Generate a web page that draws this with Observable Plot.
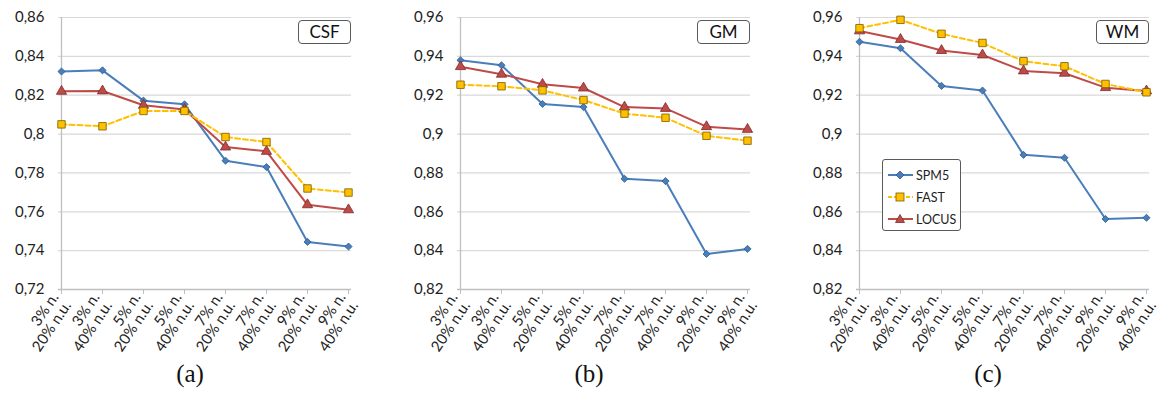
<!DOCTYPE html>
<html>
<head>
<meta charset="utf-8">
<script src="https://cdn.jsdelivr.net/npm/d3@7"></script>
<script src="https://cdn.jsdelivr.net/npm/@observablehq/plot@0.6"></script>
<style>
  html, body { margin: 0; padding: 0; background: #fff; }
  #root { position: relative; width: 1173px; height: 396px; overflow: hidden; font-family: Lato, "Open Sans", sans-serif; }
  .panel { position: absolute; top: 0; width: 390px; height: 370px; }
  .panel svg { max-width: none !important; }
  .tag { position: absolute; border: 1.3px solid #595959; border-radius: 4px; background: #fff;
         font-family: Lato, sans-serif; font-size: 17px; color: #111; text-align: center; line-height: 21px; box-sizing: border-box; }
  .caption { position: absolute; top: 360px; font-family: "Liberation Serif", "DejaVu Serif", serif; font-size: 25px; color: #111; width: 60px; text-align: center; }
  .legend { position: absolute; border: 1.3px solid #595959; border-radius: 3px; background: #fff; box-sizing: border-box; padding: 4px 0 0 4px; }
  .legend .row { display: flex; align-items: center; height: 22px; font-family: Lato, sans-serif; font-size: 12.5px; color: #222; }
  .legend svg { margin-right: 2px; }
</style>
</head>
<body>
<div id="root"></div>
<script>
// ---- data ----
const noiseLabels = ["3% n.", "3% n.", "5% n.", "5% n.", "7% n.", "7% n.", "9% n.", "9% n."];
const nonuniformLabels = ["20% n.u.", "40% n.u.", "20% n.u.", "40% n.u.", "20% n.u.", "40% n.u.", "20% n.u.", "40% n.u."];
const methods = ["SPM5", "FAST", "LOCUS"];

const csfSPM5  = [0.8322, 0.8328, 0.8172, 0.8153, 0.7863, 0.7830, 0.7445, 0.7421];
const csfFAST  = [0.8050, 0.8040, 0.8119, 0.8119, 0.7985, 0.7959, 0.7720, 0.7699];
const csfLOCUS = [0.8220, 0.8222, 0.8148, 0.8127, 0.7933, 0.7911, 0.7636, 0.7610];

const gmSPM5  = [0.9380, 0.9354, 0.9155, 0.9139, 0.8770, 0.8758, 0.8383, 0.8409];
const gmFAST  = [0.9254, 0.9246, 0.9225, 0.9175, 0.9105, 0.9084, 0.8991, 0.8966];
const gmLOCUS = [0.9347, 0.9308, 0.9256, 0.9237, 0.9139, 0.9132, 0.9038, 0.9024];

const wmSPM5  = [0.9475, 0.9442, 0.9248, 0.9224, 0.8893, 0.8878, 0.8563, 0.8569];
const wmFAST  = [0.9545, 0.9588, 0.9516, 0.9469, 0.9375, 0.9349, 0.9258, 0.9215];
const wmLOCUS = [0.9531, 0.9487, 0.9430, 0.9407, 0.9325, 0.9313, 0.9239, 0.9222];

const csfTicks = [0.72, 0.74, 0.76, 0.78, 0.80, 0.82, 0.84, 0.86];
const gmTicks  = [0.82, 0.84, 0.86, 0.88, 0.90, 0.92, 0.94, 0.96];
const wmTicks  = [0.82, 0.84, 0.86, 0.88, 0.90, 0.92, 0.94, 0.96];

const panelNames = ["CSF", "GM", "WM"];
const captions = ["(a)", "(b)", "(c)"];

// ---- styles ----
const style = {
  SPM5:  {stroke: "#4A7EBB", fill: "#4A7EBB", mstroke: "#2C5A8F", symbol: "diamond2", r: 3.2, dash: null},
  FAST:  {stroke: "#FFC000", fill: "#FFC000", mstroke: "#7A5C00", symbol: "square", r: 4.2, dash: "5,3"},
  LOCUS: {stroke: "#BE4B48", fill: "#BE4B48", mstroke: "#7E2A28", symbol: "triangle", r: 3.8, dash: null}
};

const categories = noiseLabels.map((n, i) => n + "\n" + nonuniformLabels[i]);
const fmt = v => String(+v.toFixed(2)).replace(".", ",");

function makeRows(series) {
  const rows = [];
  for (const m of methods) series[m].forEach((v, i) => rows.push({method: m, cat: categories[i], value: v}));
  return rows;
}

const panels = [
  {series: {SPM5: csfSPM5, FAST: csfFAST, LOCUS: csfLOCUS}, ticks: csfTicks},
  {series: {SPM5: gmSPM5, FAST: gmFAST, LOCUS: gmLOCUS}, ticks: gmTicks},
  {series: {SPM5: wmSPM5, FAST: wmFAST, LOCUS: wmLOCUS}, ticks: wmTicks}
];

const root = document.getElementById("root");
const panelLeft = [0, 399, 798];
const W = 390, ML = 58, MR = 39, MT = 17, H = 370, MB = 81;

panels.forEach((p, k) => {
  const rows = makeRows(p.series);
  const drawOrder = ["SPM5", "LOCUS", "FAST"];
  const marks = [
    Plot.gridY(p.ticks.slice(1), {stroke: "#d9d9d9", strokeOpacity: 1, strokeWidth: 1.2}),
    Plot.ruleY([p.ticks[0]], {stroke: "#bfbfbf", strokeWidth: 1.3}),
    Plot.ruleX([categories[0]], {stroke: "#bfbfbf", strokeWidth: 1.3}),
    Plot.axisY({ticks: p.ticks, tickSize: 0, tickPadding: 14, tickFormat: fmt, fontSize: 15, fill: "#222"}),
    Plot.axisX({tickSize: 5, tickPadding: 4, tickRotate: -56, fontSize: 15, fill: "#222", stroke: "#bfbfbf", lineHeight: 1.0})
  ];
  for (const m of drawOrder) {
    const s = style[m];
    const d = rows.filter(r => r.method === m);
    marks.push(Plot.line(d, {x: "cat", y: "value", stroke: s.stroke, strokeWidth: 2, strokeDasharray: s.dash}));
  }
  for (const m of drawOrder) {
    const s = style[m];
    const d = rows.filter(r => r.method === m);
    marks.push(Plot.dot(d, {x: "cat", y: "value", symbol: () => s.symbol, fill: s.fill, stroke: s.mstroke, strokeWidth: 0.8, r: s.r}));
  }
  const chart = Plot.plot({
    width: W, height: H,
    marginLeft: ML, marginRight: MR, marginTop: MT, marginBottom: MB,
    style: {fontFamily: "Lato, 'Open Sans', sans-serif", background: "transparent", overflow: "visible"},
    x: {type: "point", domain: categories, padding: 0, label: null},
    y: {domain: [p.ticks[0], p.ticks[p.ticks.length - 1]], label: null},
    symbol: {type: "identity"},
    marks
  });
  const wrap = document.createElement("div");
  wrap.className = "panel";
  wrap.style.left = panelLeft[k] + "px";
  wrap.appendChild(chart);
  root.appendChild(wrap);

  const tag = document.createElement("div");
  tag.className = "tag";
  tag.textContent = panelNames[k];
  tag.style.left = (panelLeft[k] + 298) + "px";
  tag.style.top = "20px";
  tag.style.width = "53px";
  tag.style.height = "24px";
  root.appendChild(tag);

  const cap = document.createElement("div");
  cap.className = "caption";
  cap.textContent = captions[k];
  cap.style.left = (panelLeft[k] + 160) + "px";
  root.appendChild(cap);
});

// legend (panel c)
const legend = document.createElement("div");
legend.className = "legend";
legend.style.left = "882px";
legend.style.top = "159px";
legend.style.width = "79px";
legend.style.height = "72px";
const symbolPaths = {
  SPM5: '<path d="M13,3 L17,7 L13,11 L9,7 Z" fill="#4A7EBB" stroke="#2C5A8F" stroke-width="0.8"/>',
  FAST: '<rect x="9" y="3" width="8" height="8" fill="#FFC000" stroke="#7A5C00" stroke-width="0.8"/>',
  LOCUS: '<path d="M13,2.5 L17.5,10.5 L8.5,10.5 Z" fill="#BE4B48" stroke="#7E2A28" stroke-width="0.8"/>'
};
for (const m of methods) {
  const s = style[m];
  const row = document.createElement("div");
  row.className = "row";
  row.innerHTML = `<svg width="27" height="14"><line x1="1" x2="26" y1="7" y2="7" stroke="${s.stroke}" stroke-width="2" ${s.dash ? 'stroke-dasharray="4,2"' : ''}/>${symbolPaths[m]}</svg><span>${m}</span>`;
  legend.appendChild(row);
}
root.appendChild(legend);
</script>
</body>
</html>
